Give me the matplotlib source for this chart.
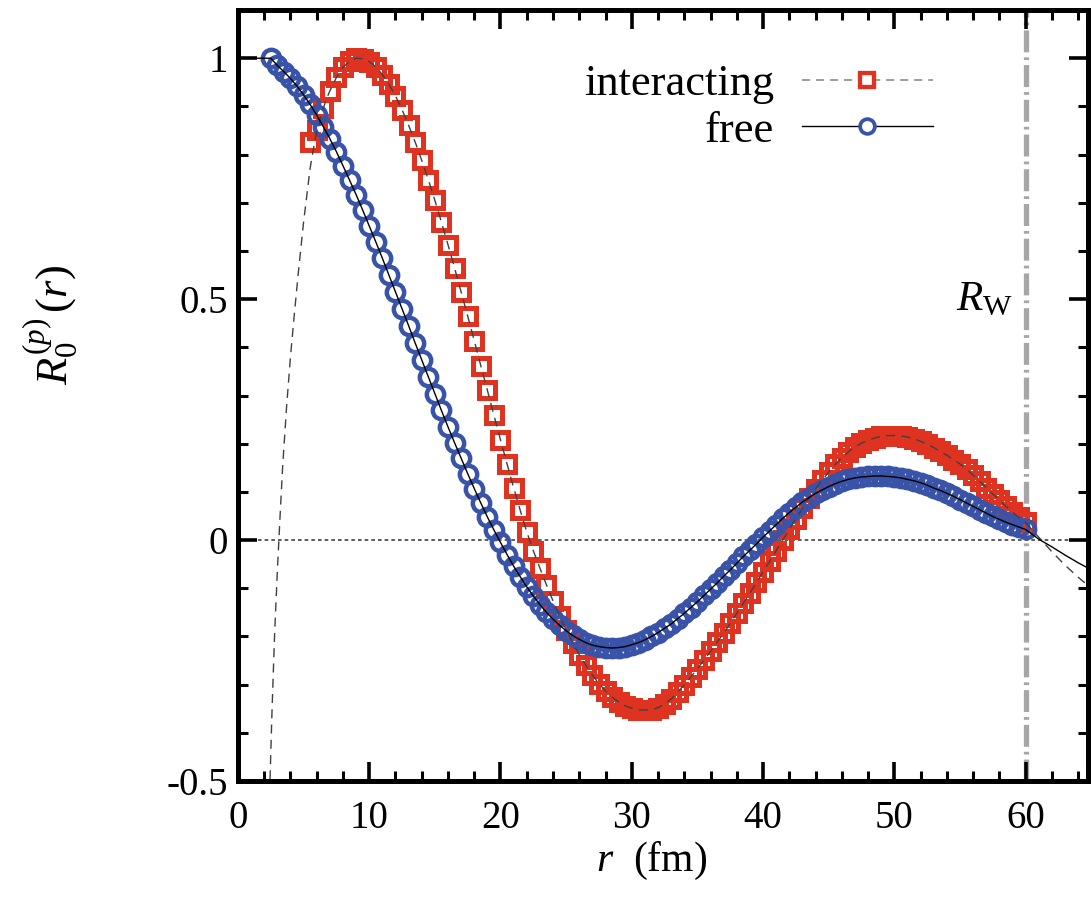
import matplotlib
matplotlib.use("Agg")
import matplotlib.pyplot as plt
from matplotlib.lines import Line2D
from matplotlib.ticker import MultipleLocator, FixedLocator

plt.rcParams['font.family'] = ['Liberation Serif', 'DejaVu Serif']
plt.rcParams['mathtext.fontset'] = 'custom'
plt.rcParams['mathtext.rm'] = 'Liberation Serif'
plt.rcParams['mathtext.it'] = 'Liberation Serif:italic'
plt.rcParams['lines.scale_dashes'] = False

# box radius
R_W = 60.0

# free solution, lattice points (blue circles)
r_free = [2.5, 3.0, 3.5, 4.0, 4.5, 5.0, 5.5, 6.0, 6.5, 7.0, 7.5, 8.0, 8.5, 9.0, 9.5,
          10.0, 10.5, 11.0, 11.5, 12.0, 12.5, 13.0, 13.5, 14.0, 14.5, 15.0, 15.5, 16.0,
          16.5, 17.0, 17.5, 18.0, 18.5, 19.0, 19.5, 20.0, 20.5, 21.0, 21.5, 22.0, 22.5,
          23.0, 23.5, 24.0, 24.5, 25.0, 25.5, 26.0, 26.5, 27.0, 27.5, 28.0, 28.5, 29.0,
          29.5, 30.0, 30.5, 31.0, 31.5, 32.0, 32.5, 33.0, 33.5, 34.0, 34.5, 35.0, 35.5,
          36.0, 36.5, 37.0, 37.5, 38.0, 38.5, 39.0, 39.5, 40.0, 40.5, 41.0, 41.5, 42.0,
          42.5, 43.0, 43.5, 44.0, 44.5, 45.0, 45.5, 46.0, 46.5, 47.0, 47.5, 48.0, 48.5,
          49.0, 49.5, 50.0, 50.5, 51.0, 51.5, 52.0, 52.5, 53.0, 53.5, 54.0, 54.5, 55.0,
          55.5, 56.0, 56.5, 57.0, 57.5, 58.0, 58.5, 59.0, 59.5, 60.0]
y_free = [1.000, 0.985, 0.972, 0.958, 0.942, 0.924, 0.904, 0.882, 0.858, 0.833, 0.806,
          0.777, 0.747, 0.717, 0.685, 0.652, 0.619, 0.585, 0.550, 0.515, 0.480, 0.445,
          0.409, 0.374, 0.339, 0.304, 0.269, 0.235, 0.202, 0.170, 0.138, 0.107, 0.077,
          0.048, 0.021, -0.005, -0.030, -0.054, -0.076, -0.097, -0.116, -0.134, -0.150,
          -0.164, -0.177, -0.188, -0.198, -0.206, -0.213, -0.218, -0.221, -0.223, -0.224,
          -0.223, -0.221, -0.217, -0.213, -0.207, -0.200, -0.192, -0.183, -0.174, -0.163,
          -0.152, -0.140, -0.128, -0.115, -0.102, -0.089, -0.075, -0.062, -0.048, -0.034,
          -0.021, -0.008, 0.006, 0.019, 0.032, 0.045, 0.057, 0.068, 0.079, 0.088, 0.097,
          0.104, 0.111, 0.117, 0.122, 0.126, 0.129, 0.131, 0.132, 0.133, 0.133, 0.132,
          0.131, 0.129, 0.126, 0.123, 0.119, 0.114, 0.108, 0.103, 0.097, 0.091, 0.084,
          0.077, 0.070, 0.063, 0.056, 0.049, 0.043, 0.037, 0.032, 0.027, 0.022]

# interacting solution, lattice points (red squares)
r_int = [5.5, 6.0, 6.5, 7.0, 7.5, 8.0, 8.5, 9.0, 9.5, 10.0, 10.5, 11.0, 11.5, 12.0,
         12.5, 13.0, 13.5, 14.0, 14.5, 15.0, 15.5, 16.0, 16.5, 17.0, 17.5, 18.0, 18.5,
         19.0, 19.5, 20.0, 20.5, 21.0, 21.5, 22.0, 22.5, 23.0, 23.5, 24.0, 24.5, 25.0,
         25.5, 26.0, 26.5, 27.0, 27.5, 28.0, 28.5, 29.0, 29.5, 30.0, 30.5, 31.0, 31.5,
         32.0, 32.5, 33.0, 33.5, 34.0, 34.5, 35.0, 35.5, 36.0, 36.5, 37.0, 37.5, 38.0,
         38.5, 39.0, 39.5, 40.0, 40.5, 41.0, 41.5, 42.0, 42.5, 43.0, 43.5, 44.0, 44.5,
         45.0, 45.5, 46.0, 46.5, 47.0, 47.5, 48.0, 48.5, 49.0, 49.5, 50.0, 50.5, 51.0,
         51.5, 52.0, 52.5, 53.0, 53.5, 54.0, 54.5, 55.0, 55.5, 56.0, 56.5, 57.0, 57.5,
         58.0, 58.5, 59.0, 59.5, 60.0]
y_int = [0.826, 0.852, 0.897, 0.932, 0.960, 0.981, 0.994, 1.000, 0.999, 0.993, 0.982,
         0.966, 0.946, 0.922, 0.893, 0.861, 0.826, 0.788, 0.748, 0.705, 0.660, 0.613,
         0.565, 0.515, 0.465, 0.414, 0.362, 0.311, 0.259, 0.208, 0.158, 0.109, 0.062,
         0.017, -0.022, -0.058, -0.093, -0.126, -0.157, -0.186, -0.213, -0.238, -0.260,
         -0.280, -0.298, -0.313, -0.326, -0.336, -0.344, -0.349, -0.352, -0.353, -0.352,
         -0.348, -0.340, -0.330, -0.316, -0.300, -0.284, -0.267, -0.249, -0.231, -0.212,
         -0.193, -0.173, -0.152, -0.131, -0.110, -0.088, -0.066, -0.044, -0.022, 0.000,
         0.022, 0.044, 0.066, 0.087, 0.106, 0.124, 0.141, 0.157, 0.171, 0.183, 0.193,
         0.201, 0.207, 0.212, 0.215, 0.217, 0.217, 0.216, 0.214, 0.210, 0.205, 0.199,
         0.192, 0.184, 0.176, 0.167, 0.158, 0.147, 0.135, 0.122, 0.109, 0.096, 0.083,
         0.070, 0.058, 0.047, 0.037]

# continuum curves: parts outside the lattice points
free_head_r = [0.0, 1.0, 2.0]
free_head_y = [1.0, 1.0, 1.0]
free_tail_r = [60.5, 61.0, 61.5, 62.0, 63.0, 64.0, 64.75]
free_tail_y = [0.012, 0.002, -0.006, -0.014, -0.031, -0.047, -0.058]

int_head_r = [2.38, 2.44, 2.6, 2.8, 3.0, 3.2, 3.4, 3.7, 4.0, 4.3, 4.6, 5.0, 5.5, 5.9, 6.3, 6.7]
int_head_y = [-0.56, -0.50, -0.35, -0.19, -0.065, 0.045, 0.15, 0.275, 0.38, 0.47, 0.555,
              0.66, 0.772, 0.835, 0.877, 0.913]
int_tail_r = [60.5, 61.0, 61.5, 62.0, 63.0, 64.0, 64.75]
int_tail_y = [0.021, 0.006, -0.009, -0.024, -0.052, -0.077, -0.094]

series_labels = ["interacting", "free"]
x_ticks = [0, 10, 20, 30, 40, 50, 60]
y_ticks = [-0.5, 0, 0.5, 1]
y_tick_labels = ["-0.5", "0", "0.5", "1"]

RED = "#df3322"
BLUE = "#3853a8"


def main():
    fig = plt.figure(figsize=(10.91, 9.21), dpi=100)
    ax = fig.add_axes([0.2181, 0.1520, 0.7791, 0.8371])

    ax.axhline(0, color="#303030", lw=1.1, dashes=(2.6, 2.2), zorder=1)
    ax.axvline(R_W, color="#a6a6a6", lw=3.8, dashes=(15.8, 3.6, 2.0, 3.6), zorder=1.5)

    # lattice points
    ax.plot(r_int, y_int, ls="none", marker="s", ms=12.0, mew=3.6, mec=RED, mfc="none", zorder=2)
    ax.plot(r_free, y_free, ls="none", marker="o", ms=12.5, mew=3.2, mec=BLUE, mfc="none", zorder=2.1)

    # continuum curves
    k0 = r_int.index(7.0)
    line_int_r = int_head_r + r_int[k0:] + int_tail_r
    line_int_y = int_head_y + y_int[k0:] + int_tail_y
    line_free_r = free_head_r + r_free + free_tail_r
    line_free_y = free_head_y + y_free + free_tail_y
    ax.plot(line_int_r, line_int_y, color="#404040", lw=1.0, dashes=(6.5, 4.5), zorder=3)
    ax.plot(line_free_r, line_free_y, color="black", lw=1.0, zorder=3)

    ax.set_xlim(0, 64.75)
    ax.set_ylim(-0.5, 1.1)
    ax.xaxis.set_major_locator(FixedLocator(x_ticks))
    ax.set_xticklabels([str(t) for t in x_ticks])
    ax.xaxis.set_minor_locator(MultipleLocator(2))
    ax.yaxis.set_major_locator(FixedLocator(y_ticks))
    ax.set_yticklabels(y_tick_labels)
    ax.yaxis.set_minor_locator(MultipleLocator(0.1))

    ax.tick_params(which="both", direction="in", top=True, right=True, colors="black")
    ax.tick_params(which="major", length=14, width=2.6, labelsize=28)
    ax.tick_params(which="minor", length=7, width=2.2)
    ax.tick_params(axis="x", pad=14)
    ax.tick_params(axis="y", pad=7)
    for sp in ax.spines.values():
        sp.set_linewidth(3.6)

    ax.set_xlabel(r"$r$  (fm)", fontsize=30)
    ax.xaxis.set_label_coords(0.487, -0.077)
    ax.set_ylabel(r"$R_0^{(p)}\,(r)$", fontsize=32, va="center")
    ax.yaxis.set_label_coords(-0.219, 0.591)

    ax.text(59.0, 0.477, r"$R_{\mathrm{W}}$", fontsize=31, ha="right", va="baseline")

    h_int = Line2D([], [], color="#8c8c8c", lw=1.2, dashes=(5.8, 4.3), marker="s",
                   ms=10.0, mew=3.1, mec=RED, mfc="white")
    h_free = Line2D([], [], color="black", lw=1.0, marker="o",
                    ms=10.6, mew=2.7, mec=BLUE, mfc="white")
    ax.legend([h_int, h_free], series_labels, loc="upper right",
              bbox_to_anchor=(0.8176, 0.93), frameon=False, markerfirst=False,
              fontsize=32, handlelength=2.95, handletextpad=0.62, labelspacing=0.15,
              borderpad=0, borderaxespad=0, numpoints=1)

    fig.savefig("out.png", dpi=100)


if __name__ == "__main__":
    main()
